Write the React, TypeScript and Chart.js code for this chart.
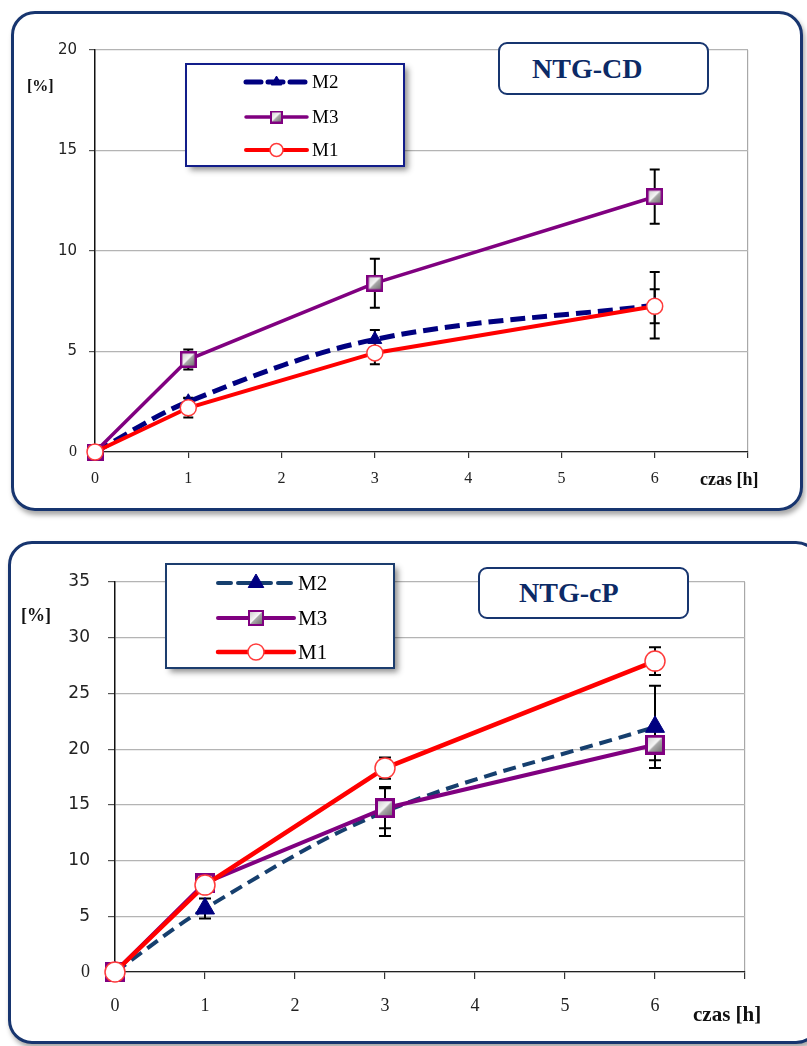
import React, { useEffect, useRef } from "react";
import { Chart, registerables } from "chart.js";
Chart.register(...registerables);

// ---------- data ----------
const hours = [0, 1, 3, 6];
const xTickLabels = ["0", "1", "2", "3", "4", "5", "6"];
const seriesNames = ["M2", "M3", "M1"];

const cdM2 = [0, 2.5, 5.6, 7.3];
const cdM2Err = [0, 0.2, 0.47, 1.65];
const cdM3 = [0, 4.6, 8.4, 12.7];
const cdM3Err = [0, 0.5, 1.22, 1.35];
const cdM1 = [0, 2.2, 4.93, 7.25];
const cdM1Err = [0, 0.48, 0.57, 0.85];

const cpM2 = [0, 5.7, 14.4, 22.0];
const cpM2Err = [0, 0.9, 2.2, 3.7];
const cpM3 = [0, 8.0, 14.7, 20.4];
const cpM3Err = [0, 0.3, 1.8, 1.4];
const cpM1 = [0, 7.8, 18.3, 27.9];
const cpM1Err = [0, 0.3, 0.95, 1.25];

const cdTitle = "NTG-CD";
const cpTitle = "NTG-cP";
const yTitle = "[%]";
const xTitle = "czas [h]";

// ---------- helpers ----------
function makeSquare(size: number, bw: number) {
  const c = document.createElement("canvas");
  c.width = size;
  c.height = size;
  const g = c.getContext("2d")!;
  const grd = g.createLinearGradient(0, 0, size, size);
  grd.addColorStop(0, "#bdbdbd");
  grd.addColorStop(0.47, "#f6f6f6");
  grd.addColorStop(0.53, "#a8a8a8");
  grd.addColorStop(1, "#5c5c5c");
  g.fillStyle = grd;
  g.fillRect(0, 0, size, size);
  g.strokeStyle = "#800080";
  g.lineWidth = bw;
  g.strokeRect(bw / 2, bw / 2, size - bw, size - bw);
  return c;
}

const errorBarsPlugin = {
  id: "errBars",
  beforeDatasetsDraw(chart: any, _a: any, opts: any) {
    const ctx = chart.ctx;
    const ys = chart.scales.y;
    ctx.save();
    ctx.strokeStyle = "#000";
    ctx.lineWidth = opts.lineWidth || 2;
    ctx.setLineDash([]);
    const cap = opts.cap || 5;
    chart.data.datasets.forEach((ds: any, i: number) => {
      const meta = chart.getDatasetMeta(i);
      (ds.errors || []).forEach((e: number, j: number) => {
        if (!e) return;
        const pt = ds.data[j];
        const v = typeof pt === "number" ? pt : pt.y;
        const x = meta.data[j].x;
        const yt = ys.getPixelForValue(v + e);
        const yb = ys.getPixelForValue(v - e);
        ctx.beginPath();
        ctx.moveTo(x, yt);
        ctx.lineTo(x, yb);
        ctx.moveTo(x - cap, yt);
        ctx.lineTo(x + cap, yt);
        ctx.moveTo(x - cap, yb);
        ctx.lineTo(x + cap, yb);
        ctx.stroke();
      });
    });
    ctx.restore();
  },
};

function drawMarker(ctx: CanvasRenderingContext2D, lm: any, cx: number, cy: number) {
  if (lm.image) {
    ctx.drawImage(lm.image, cx - lm.image.width / 2, cy - lm.image.height / 2);
    return;
  }
  ctx.setLineDash([]);
  ctx.beginPath();
  if (lm.style === "triangle") {
    const r = lm.radius;
    let a = 0;
    ctx.moveTo(cx + Math.sin(a) * r, cy - Math.cos(a) * r);
    a += (2 * Math.PI) / 3;
    ctx.lineTo(cx + Math.sin(a) * r, cy - Math.cos(a) * r);
    a += (2 * Math.PI) / 3;
    ctx.lineTo(cx + Math.sin(a) * r, cy - Math.cos(a) * r);
    ctx.closePath();
  } else {
    ctx.arc(cx, cy, lm.radius, 0, Math.PI * 2);
  }
  ctx.fillStyle = lm.fill;
  ctx.fill();
  ctx.lineWidth = lm.borderWidth;
  ctx.strokeStyle = lm.border;
  ctx.stroke();
}

const boxLegendPlugin = {
  id: "boxLegend",
  afterDraw(chart: any, _a: any, o: any) {
    const ctx = chart.ctx;
    ctx.save();
    ctx.shadowColor = "rgba(0,0,0,0.45)";
    ctx.shadowBlur = 6;
    ctx.shadowOffsetX = 4;
    ctx.shadowOffsetY = 4;
    ctx.fillStyle = "#fff";
    ctx.fillRect(o.x, o.y, o.w, o.h);
    ctx.restore();
    ctx.save();
    ctx.strokeStyle = o.borderColor;
    ctx.lineWidth = 2;
    ctx.strokeRect(o.x, o.y, o.w, o.h);
    chart.data.datasets.forEach((ds: any, i: number) => {
      const y = o.rows[i];
      ctx.beginPath();
      ctx.strokeStyle = ds.borderColor;
      ctx.lineWidth = ds.borderWidth;
      ctx.lineCap = "round";
      ctx.setLineDash(ds.borderDash || []);
      ctx.moveTo(o.x1, y);
      ctx.lineTo(o.x2, y);
      ctx.stroke();
      ctx.lineCap = "butt";
      drawMarker(ctx, ds.legendMarker, (o.x1 + o.x2) / 2, y);
      ctx.fillStyle = "#000";
      ctx.font = o.font;
      ctx.textBaseline = "middle";
      ctx.textAlign = "left";
      ctx.fillText(ds.label, o.tx, y + 1);
    });
    ctx.restore();
  },
};

type Setup = {
  m2: number[]; m2e: number[]; m3: number[]; m3e: number[]; m1: number[]; m1e: number[];
  yMax: number;
  big: boolean;
  pad: any; yWidth: number; xHeight: number;
  legend: any;
  m2Color: string;
};

function buildConfig(s: Setup): any {
  const big = s.big;
  const sq = makeSquare(big ? 20 : 17, big ? 3 : 2.5);
  const sqL = makeSquare(big ? 16 : 13, 2);
  const yTickFontSans = { family: "'DejaVu Sans', Verdana, sans-serif", size: big ? 17 : 15 };
  const serifTick = { family: "'Liberation Serif', 'Times New Roman', serif", size: big ? 18 : 16 };
  return {
    type: "line",
    data: {
      labels: hours,
      datasets: [
        {
          label: seriesNames[0],
          data: s.m2,
          errors: s.m2e,
          borderColor: s.m2Color,
          borderWidth: big ? 4 : 5,
          borderDash: big ? [13, 7] : [15, 7],
          tension: 0.35,
          pointStyle: "triangle",
          pointRadius: big ? 11 : 8,
          pointBackgroundColor: "#000080",
          pointBorderColor: "#000080",
          pointBorderWidth: 1,
          order: 3,
          clip: false,
          legendMarker: { style: "triangle", radius: big ? 9 : 6, fill: "#000080", border: "#000080", borderWidth: 1 },
        },
        {
          label: seriesNames[1],
          data: s.m3,
          errors: s.m3e,
          borderColor: "#800080",
          borderWidth: big ? 4 : 3.5,
          tension: 0,
          pointStyle: sq,
          pointRadius: big ? 10 : 8.5,
          order: 2,
          clip: false,
          legendMarker: { image: sqL },
        },
        {
          label: seriesNames[2],
          data: s.m1,
          errors: s.m1e,
          borderColor: "#ff0000",
          borderWidth: big ? 4.5 : 4,
          tension: 0,
          pointStyle: "circle",
          pointRadius: big ? 10 : 8,
          pointBackgroundColor: "#ffffff",
          pointBorderColor: "#ff3b3b",
          pointBorderWidth: 1.5,
          order: 1,
          clip: false,
          legendMarker: { style: "circle", radius: big ? 8 : 6.5, fill: "#fff", border: "#ff3b3b", borderWidth: 1.5 },
        },
      ].map((d: any) => ({
        ...d,
        data: d.data.map((v: number, j: number) => ({ x: hours[j], y: v })),
      })),
    },
    options: {
      responsive: false,
      animation: false,
      events: [],
      layout: { padding: s.pad },
      plugins: {
        legend: { display: false },
        tooltip: { enabled: false },
        errBars: { lineWidth: 2, cap: big ? 6 : 5 },
        boxLegend: s.legend,
      },
      scales: {
        x: {
          type: "linear",
          min: 0,
          max: 7,
          afterFit: (sc: any) => { sc.height = s.xHeight; },
          ticks: {
            stepSize: 1,
            autoSkip: false,
            maxRotation: 0,
            padding: big ? 16 : 11,
            color: "#222",
            font: serifTick,
            callback: (v: number) => xTickLabels[v] ?? "",
          },
          grid: {
            drawOnChartArea: true,
            color: (c: any) => (c.tick && c.tick.value === 7 ? "#a8a8a8" : "rgba(0,0,0,0)"),
            tickColor: "#333",
            tickLength: big ? 7 : 6,
            lineWidth: 1.2,
          },
          border: { display: true, color: "#222", width: 1.3 },
        },
        y: {
          min: 0,
          max: s.yMax,
          afterFit: (sc: any) => { sc.width = s.yWidth; },
          ticks: {
            stepSize: 5,
            padding: big ? 18 : 12,
            color: "#222",
            font: (c: any) => (c.tick && c.tick.value === 0 ? serifTick : yTickFontSans),
          },
          grid: {
            color: "#b4b4b4",
            tickColor: "#555",
            tickLength: big ? 7 : 6,
            lineWidth: 1.2,
          },
          border: { display: true, color: "#111", width: 1.5 },
        },
      },
    },
    plugins: [errorBarsPlugin, boxLegendPlugin],
  };
}

const NAVY = "#17356f";

export default function App() {
  const topRef = useRef<HTMLCanvasElement | null>(null);
  const botRef = useRef<HTMLCanvasElement | null>(null);

  useEffect(() => {
    const c1 = new Chart(
      topRef.current!,
      buildConfig({
        m2: cdM2, m2e: cdM2Err, m3: cdM3, m3e: cdM3Err, m1: cdM1, m1e: cdM1Err,
        yMax: 20,
        big: false,
        pad: { left: 0, top: 50, right: 59, bottom: 28 },
        yWidth: 95,
        xHeight: 40,
        m2Color: "#000080",
        legend: {
          x: 186, y: 64, w: 218, h: 102,
          x1: 246, x2: 307, tx: 312,
          rows: [82, 117, 150],
          font: "19px 'Liberation Serif', 'Times New Roman', serif",
          borderColor: "#121d8a",
        },
      })
    );
    const c2 = new Chart(
      botRef.current!,
      buildConfig({
        m2: cpM2, m2e: cpM2Err, m3: cpM3, m3e: cpM3Err, m1: cpM1, m1e: cpM1Err,
        yMax: 35,
        big: true,
        pad: { left: 0, top: 52, right: 62, bottom: 30 },
        yWidth: 115,
        xHeight: 44,
        m2Color: "#163f6e",
        legend: {
          x: 166, y: 34, w: 228, h: 104,
          x1: 218, x2: 294, tx: 298,
          rows: [53, 88, 122],
          font: "21px 'Liberation Serif', 'Times New Roman', serif",
          borderColor: "#1c3d6e",
        },
      })
    );
    return () => {
      c1.destroy();
      c2.destroy();
    };
  }, []);

  const abs = (l: number, t: number, extra: any = {}) => ({ position: "absolute" as const, left: l, top: t, ...extra });
  const serifBold = "'Liberation Serif', 'Times New Roman', serif";

  return (
    <div style={{ position: "absolute", left: 0, top: 0, width: 807, height: 1046, overflow: "hidden", background: "#fff" }}>
      {/* panels */}
      <div style={abs(11, 11, { width: 792, height: 500, boxSizing: "border-box", border: `3px solid ${NAVY}`, borderRadius: 24, boxShadow: "2px 4px 5px rgba(0,0,0,0.35)", background: "#fff" })} />
      <div style={abs(8, 541, { width: 812, height: 503, boxSizing: "border-box", border: `3px solid ${NAVY}`, borderRadius: 24, boxShadow: "2px 4px 5px rgba(0,0,0,0.35)", background: "#fff" })} />

      <canvas ref={topRef} width={807} height={520} style={abs(0, 0, { display: "block", width: 807, height: 520 })} />
      <canvas ref={botRef} width={807} height={516} style={abs(0, 530, { display: "block", width: 807, height: 516 })} />

      {/* title boxes */}
      <div style={abs(498, 42, { width: 211, height: 53, boxSizing: "border-box", border: `2.5px solid ${NAVY}`, borderRadius: 9, background: "#fff", display: "flex", alignItems: "center", paddingLeft: 32, fontFamily: serifBold, fontWeight: "bold", fontSize: 28, color: "#0c2a66" })}>
        {cdTitle}
      </div>
      <div style={abs(478, 567, { width: 211, height: 52, boxSizing: "border-box", border: `2.5px solid ${NAVY}`, borderRadius: 9, background: "#fff", display: "flex", alignItems: "center", paddingLeft: 39, fontFamily: serifBold, fontWeight: "bold", fontSize: 28, color: "#0c2a66" })}>
        {cpTitle}
      </div>

      {/* axis titles */}
      <div style={abs(27, 76, { fontFamily: serifBold, fontWeight: "bold", fontSize: 16, lineHeight: "20px", color: "#111" })}>{yTitle}</div>
      <div style={abs(21, 604, { fontFamily: serifBold, fontWeight: "bold", fontSize: 18, lineHeight: "22px", color: "#111" })}>{yTitle}</div>
      <div style={abs(700, 469, { fontFamily: serifBold, fontWeight: "bold", fontSize: 18, lineHeight: "20px", color: "#111", whiteSpace: "nowrap" })}>{xTitle}</div>
      <div style={abs(693, 1002, { fontFamily: serifBold, fontWeight: "bold", fontSize: 21, lineHeight: "24px", color: "#111", whiteSpace: "nowrap" })}>{xTitle}</div>
    </div>
  );
}
